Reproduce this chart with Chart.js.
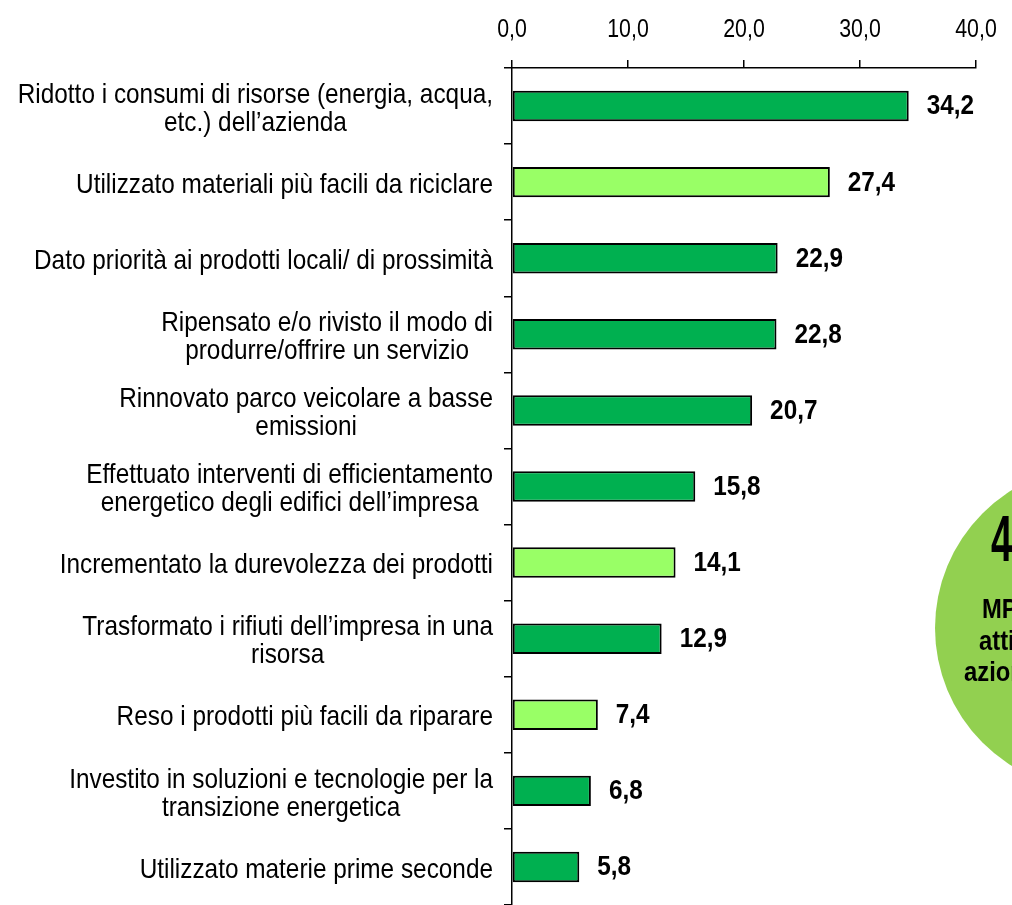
<!DOCTYPE html>
<html lang="it">
<head>
<meta charset="UTF-8">
<title>Azioni di sostenibilità</title>
<script src="https://cdn.jsdelivr.net/npm/chart.js"></script>
<style>
  body { margin: 0; background: #ffffff; }
  #box { width: 1012px; height: 905px; position: relative; }
</style>
</head>
<body>
<div id="box"><canvas id="grafico"></canvas></div>

<script>
// dati
var categorie = [
  ["Ridotto i consumi di risorse (energia, acqua,", "etc.) dell\u2019azienda"],
  ["Utilizzato materiali più facili da riciclare"],
  ["Dato priorità ai prodotti locali/ di prossimità"],
  ["Ripensato e/o rivisto il modo di", "produrre/offrire un servizio"],
  ["Rinnovato parco veicolare a basse", "emissioni"],
  ["Effettuato interventi di efficientamento", "energetico degli edifici dell\u2019impresa"],
  ["Incrementato la durevolezza dei prodotti"],
  ["Trasformato i rifiuti dell\u2019impresa in una", "risorsa"],
  ["Reso i prodotti più facili da riparare"],
  ["Investito in soluzioni e tecnologie per la", "transizione energetica"],
  ["Utilizzato materie prime seconde"]
];
var valori = [34.2, 27.4, 22.9, 22.8, 20.7, 15.8, 14.1, 12.9, 7.4, 6.8, 5.8];
var evidenziati = [1, 6, 8]; // barre verde chiaro
var tickX = [0, 10, 20, 30, 40];
var testoCerchio = ["40,6%", "MPI che hanno", "attivato almeno", "azioni di sostenibilità"];

// Arial Narrow non c'è: Liberation Sans compressa in orizzontale
var FONT = '"Liberation Sans", Arial, sans-serif';
var verdeScuro = '#00B050';
var verdeChiaro = '#99FF66';

function virgola(v) {
  return v.toFixed(1).replace('.', ',');
}

function scriviStretto(ctx, testo, x, y, align, sx) {
  ctx.save();
  ctx.translate(x, y);
  ctx.scale(sx, 1);
  ctx.textAlign = align;
  ctx.fillText(testo, 0, 0);
  ctx.restore();
}

var colori = valori.map(function (v, i) {
  return evidenziati.indexOf(i) >= 0 ? verdeChiaro : verdeScuro;
});

// testi: etichette categorie, tick asse x
var testiPlugin = {
  id: 'testi',
  afterDraw: function (chart) {
    var ctx = chart.ctx;
    var y = chart.scales.y;
    var x = chart.scales.x;
    ctx.save();
    ctx.fillStyle = '#000';
    ctx.textBaseline = 'middle';

    var sx = 0.87;
    ctx.font = '28px ' + FONT;
    var destra = y.right - 19;
    for (var i = 0; i < categorie.length; i++) {
      var righe = categorie[i];
      var larg = 0;
      righe.forEach(function (r) { larg = Math.max(larg, ctx.measureText(r).width * sx); });
      var cx = destra - larg / 2;
      var py = y.getPixelForTick(i);
      var h = 28;
      var y0 = py - (righe.length - 1) * h / 2 + 3;
      righe.forEach(function (r, k) { scriviStretto(ctx, r, cx, y0 + k * h, 'center', sx); });
    }

    ctx.font = '26px ' + FONT;
    tickX.forEach(function (v) {
      scriviStretto(ctx, virgola(v), x.getPixelForValue(v), 30, 'center', 0.82);
    });
    ctx.restore();
  }
};

// valori a destra delle barre
var valoriPlugin = {
  id: 'valori',
  afterDatasetsDraw: function (chart) {
    var ctx = chart.ctx;
    var meta = chart.getDatasetMeta(0);
    ctx.save();
    ctx.font = 'bold 27px ' + FONT;
    ctx.fillStyle = '#000';
    ctx.textBaseline = 'middle';
    meta.data.forEach(function (bar, i) {
      scriviStretto(ctx, virgola(valori[i]), bar.x + 18, bar.y + 1, 'left', 0.9);
    });
    ctx.restore();
  }
};

// cerchio verde tagliato a destra
var cerchioPlugin = {
  id: 'cerchio',
  afterDraw: function (chart) {
    var ctx = chart.ctx;
    ctx.save();
    ctx.beginPath();
    ctx.arc(1097, 628, 162, 0, Math.PI * 2);
    ctx.fillStyle = '#92D050';
    ctx.fill();
    ctx.fillStyle = '#000';
    ctx.textBaseline = 'middle';
    ctx.font = 'bold 64px ' + FONT;
    scriviStretto(ctx, testoCerchio[0], 991, 543, 'left', 0.6);
    ctx.font = 'bold 28px ' + FONT;
    scriviStretto(ctx, testoCerchio[1], 982, 610, 'left', 0.85);
    scriviStretto(ctx, testoCerchio[2], 979, 642, 'left', 0.85);
    scriviStretto(ctx, testoCerchio[3], 964, 673, 'left', 0.85);
    ctx.restore();
  }
};

var config = {
  type: 'bar',
  data: {
    labels: categorie,
    datasets: [{
      data: valori,
      backgroundColor: colori,
      borderColor: '#000',
      borderWidth: 2,
      borderSkipped: false,
      categoryPercentage: 1,
      barPercentage: 0.4
    }]
  },
  options: {
    indexAxis: 'y',
    responsive: true,
    maintainAspectRatio: false,
    animation: false,
    layout: { padding: { left: 0, right: 36, top: 0, bottom: 0 } },
    plugins: {
      legend: { display: false },
      tooltip: { enabled: false }
    },
    scales: {
      x: {
        position: 'top',
        min: 0,
        max: 40,
        afterBuildTicks: function (scale) {
          scale.ticks = tickX.map(function (v) { return { value: v }; });
        },
        afterFit: function (scale) { scale.height = 68; },
        ticks: { display: false },
        grid: {
          drawOnChartArea: false,
          drawTicks: true,
          tickLength: 8,
          color: '#000',
          lineWidth: 1.5
        },
        border: { display: true, color: '#000', width: 1.5 }
      },
      y: {
        afterFit: function (scale) { scale.width = 512; },
        ticks: { display: false },
        grid: {
          offset: true,
          drawOnChartArea: false,
          drawTicks: true,
          tickLength: 8,
          color: '#000',
          lineWidth: 1.5
        },
        border: { display: true, color: '#000', width: 1.5 }
      }
    }
  },
  plugins: [testiPlugin, valoriPlugin, cerchioPlugin]
};

new Chart(document.getElementById('grafico').getContext('2d'), config);
</script>
</body>
</html>
